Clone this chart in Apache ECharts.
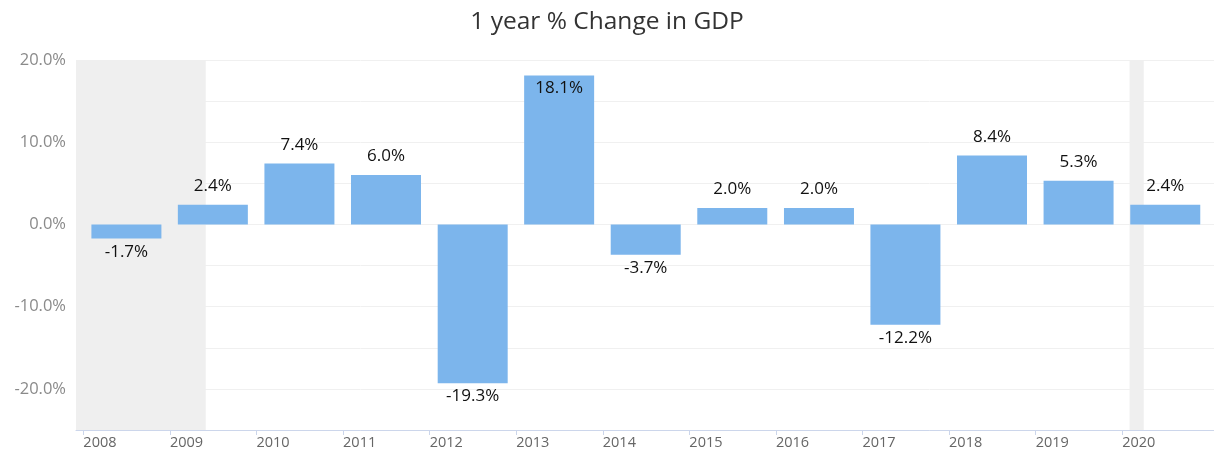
<!DOCTYPE html>
<html>
  <head>
    <meta charset="utf-8" />
  </head>
  <body style="margin: 0;">
    <div id="container" style="width: 1214px; height: 453px;"></div>
    <script src="https://cdn.jsdelivr.net/npm/echarts@6/dist/echarts.min.js"></script>
    <script type="text/javascript">
      var years = [2008, 2009, 2010, 2011, 2012, 2013, 2014, 2015, 2016, 2017, 2018, 2019, 2020];
      var gdpChange = [-1.7, 2.4, 7.4, 6.0, -19.3, 18.1, -3.7, 2.0, 2.0, -12.2, 8.4, 5.3, 2.4];
      // recession bands (start, end)
      var recessions = [
        ["2007-12-01", "2009-06-01"],
        ["2020-02-01", "2020-04-01"],
      ];
      var axisStart = "2007-12-01";
      var axisEnd = "2021-01-23";

      // date string -> fractional year
      function toYear(s) {
        var p = s.split("-");
        var y = +p[0];
        var d = Date.UTC(y, +p[1] - 1, +p[2]);
        var a = Date.UTC(y, 0, 1);
        var b = Date.UTC(y + 1, 0, 1);
        return y + (d - a) / (b - a);
      }

      var dom = document.getElementById("container");
      var myChart = echarts.init(dom);

      var barData = years.map(function (y, i) {
        var v = gdpChange[i];
        var pos = v >= 0 ? "top" : "bottom";
        var dist = v >= 0 ? 10 : 5;
        if (v > 15) {
          pos = "insideTop";
          dist = 4;
        }
        return {
          value: [toYear(y + "-07-01"), v],
          label: { position: pos, distance: dist },
        };
      });

      var option = {
        animation: false,
        title: {
          text: "1 year % Change in GDP",
          left: "center",
          top: 5,
          textStyle: {
            fontFamily: "Open Sans",
            fontSize: 24.5,
            fontWeight: "normal",
            color: "#333",
          },
        },
        grid: {
          left: 76,
          right: 0,
          top: 60,
          bottom: 23,
          containLabel: false,
        },
        xAxis: {
          type: "value",
          min: toYear(axisStart),
          max: toYear(axisEnd),
          axisLine: { show: true, onZero: false, lineStyle: { color: "#ccd6eb" } },
          axisTick: {
            show: true,
            length: 5,
            customValues: years,
            lineStyle: { color: "#ccd6eb" },
          },
          axisLabel: {
            customValues: years,
            align: "left",
            margin: 5,
            color: "#666",
            fontFamily: "Open Sans",
            fontSize: 14.5,
            formatter: function (v) {
              return String(Math.round(v));
            },
          },
          splitLine: { show: false },
        },
        yAxis: {
          type: "value",
          min: -25,
          max: 20,
          interval: 5,
          axisLine: { show: false },
          axisTick: { show: false },
          axisLabel: {
            margin: 10,
            color: "#8a8a8a",
            fontFamily: "Open Sans",
            fontSize: 16.5,
            formatter: function (v) {
              return v % 10 === 0 ? v.toFixed(1) + "%" : "";
            },
          },
          splitLine: { lineStyle: { color: "#f0f0f0" } },
        },
        series: [
          {
            name: "GDP",
            type: "bar",
            barWidth: 70,
            itemStyle: { color: "#7cb5ec" },
            label: {
              show: true,
              color: "#111",
              fontFamily: "Open Sans",
              fontSize: 17,
              formatter: function (p) {
                return p.value[1].toFixed(1) + "%";
              },
            },
            data: barData,
            markArea: {
              silent: true,
              itemStyle: { color: "#efefef" },
              data: recessions.map(function (r) {
                return [{ xAxis: toYear(r[0]) }, { xAxis: toYear(r[1]) }];
              }),
            },
          },
        ],
      };

      myChart.setOption(option);
    </script>
  </body>
</html>
